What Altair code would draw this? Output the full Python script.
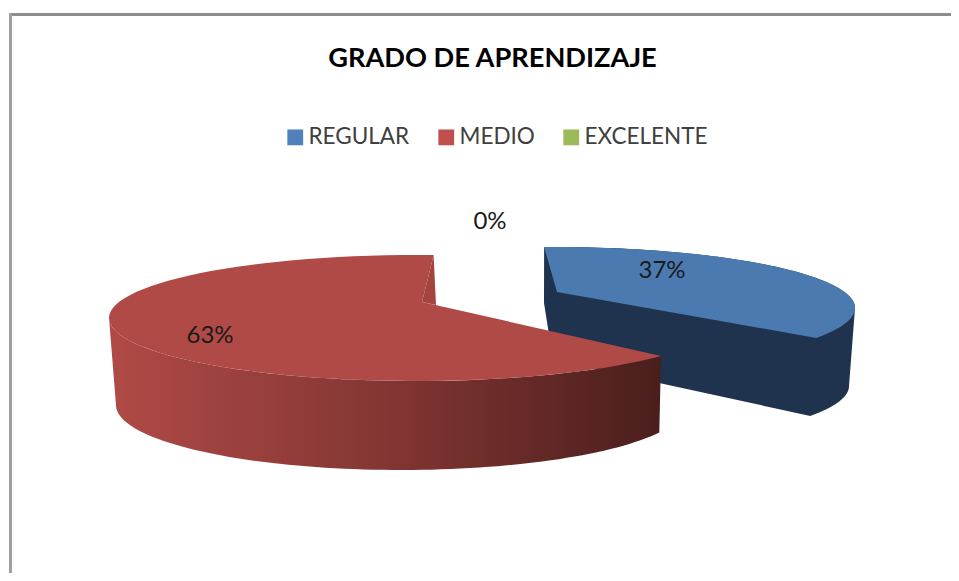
import numpy as np
import pandas as pd
import altair as alt

TITLE = "GRADO DE APRENDIZAJE"
CATEGORIES = ["REGULAR", "MEDIO", "EXCELENTE"]
VALUES = [37, 63, 0]
LEGEND_COLORS = ["#4F81BD", "#C0504D", "#9BBB59"]
LABEL_X = [662, 210, 490]
LABEL_Y = [271, 336, 222]

# perspective strength of the tilted pie: a share angle becomes an ellipse angle
PERSP = 0.24


def ellipse_angle(theta_deg):
    th = np.radians(theta_deg)
    c = (np.cos(th) + PERSP) / (1 + PERSP * np.cos(th))
    s = np.sin(th) * np.sqrt(1 - PERSP ** 2) / (1 + PERSP * np.cos(th))
    return np.arctan2(s, c)


def arc(cx, cy, a, b, t0, t1, n=80):
    ts = np.linspace(t0, t1, n)
    return list(zip(cx + a * np.sin(ts), cy - b * np.cos(ts)))


def unwrap(t0, t1):
    return t0, t1 if t1 > t0 else t1 + 2 * np.pi


def poly(points):
    return pd.DataFrame({"px": [p[0] for p in points], "py": [p[1] for p in points],
                         "i": range(len(points))})


X = alt.Scale(domain=[8, 951], range=[0, 943])
Y = alt.Scale(domain=[8, 573], range=[0, 565])


def shape(points, fill):
    return alt.Chart(poly(points)).mark_line(
        fill=fill, strokeWidth=0, strokeOpacity=0, interpolate="linear"
    ).encode(
        x=alt.X("px:Q", scale=X, axis=None),
        y=alt.Y("py:Q", scale=Y, axis=None),
        order="i:Q",
    )


# slice sweeps derived from the shares
span_blue = VALUES[0] / sum(VALUES) * 360
span_red = VALUES[1] / sum(VALUES) * 360
rot_blue, rot_red = -2.4, 4.2

b0, b1 = unwrap(ellipse_angle(rot_blue), ellipse_angle(rot_blue + span_blue))
r0, r1 = unwrap(ellipse_angle(rot_red + span_blue), ellipse_angle(rot_red + span_blue + span_red))

BLUE = dict(cx=554, cy=308, a=301, b=61)
RED = dict(cx=416, cy=318, a=307, b=63)
RED_BASE = dict(cx=401, cy=405, a=285, b=65)
BLUE_APEX = (557, 292)
RED_APEX = (422, 302)
BLUE_DROP = (-6, 78)
quarter = np.pi / 2

blue_top = arc(**BLUE, t0=b0, t1=b1)
blue_body = (
    arc(**BLUE, t0=b0, t1=quarter)
    + arc(BLUE["cx"] + BLUE_DROP[0], BLUE["cy"] + BLUE_DROP[1], BLUE["a"], BLUE["b"], quarter, b1)
    + [(553, 360), (544, 303)]
)
red_top = arc(**RED, t0=r0, t1=r1) + [RED_APEX]
red_wall = arc(**RED, t0=r0, t1=3 * quarter) + arc(**RED_BASE, t0=3 * quarter, t1=np.radians(115))
red_notch = [red_top[-2], RED_APEX, (436, 305)]

gradient = alt.Gradient(
    gradient="linear", x1=0, x2=1, y1=0, y2=0,
    stops=[
        alt.GradientStop(offset=0, color="#B04A46"),
        alt.GradientStop(offset=0.5, color="#833633"),
        alt.GradientStop(offset=1, color="#4A1E1C"),
    ],
)

pie = [
    shape(blue_body, "#1F334E"),
    shape(blue_top + [BLUE_APEX], "#4A7AB0"),
    shape(red_wall, gradient),
    shape(red_top, "#B04A46"),
    shape(red_notch, "#A5443F"),
]

table = pd.DataFrame({
    "cat": CATEGORIES,
    "v": VALUES,
    "lx": LABEL_X,
    "ly": LABEL_Y,
    "label": [f"{v}%" for v in VALUES],
})

labels = alt.Chart(table).mark_text(font="Lato", fontSize=24, color="#1A1A1A").encode(
    x=alt.X("lx:Q", scale=X, axis=None),
    y=alt.Y("ly:Q", scale=Y, axis=None),
    text="label:N",
)

legend_driver = alt.Chart(table).mark_point(filled=True, shape="square", size=0).encode(
    x=alt.X("lx:Q", scale=X, axis=None),
    y=alt.Y("ly:Q", scale=Y, axis=None),
    color=alt.Color(
        "cat:N",
        scale=alt.Scale(domain=CATEGORIES, range=LEGEND_COLORS),
        legend=alt.Legend(
            orient="none", legendX=276, legendY=118, direction="horizontal", columns=3,
            title=None, symbolType="square", symbolSize=250, symbolStrokeWidth=0,
            labelFont="Lato", labelFontSize=22.5, labelColor="#404040", labelOffset=2,
            columnPadding=25, padding=0, symbolOpacity=1, labelLimit=300,
        ),
    ),
)

frame_top = alt.Chart(table.head(1)).mark_rule(color="#8C8C8C", strokeWidth=3).encode(
    x=alt.value(1), x2=alt.value(943), y=alt.value(6.5)
)
frame_left = alt.Chart(table.head(1)).mark_rule(color="#A0A0A0", strokeWidth=3).encode(
    x=alt.value(2.5), y=alt.value(5), y2=alt.value(565)
)

chart = alt.layer(frame_top, frame_left, *pie, labels, legend_driver).properties(
    width=943,
    height=565,
    padding=0,
    autosize=alt.AutoSizeParams(type="none"),
    background="white",
    title=alt.TitleParams(
        TITLE, font="Lato", fontSize=27.2, fontWeight="bold", color="#000000",
        anchor="middle", dx=13, dy=69.5,
    ),
).configure_view(stroke=None)

chart.save("out.html", embed_options={"renderer": "svg", "actions": False})
